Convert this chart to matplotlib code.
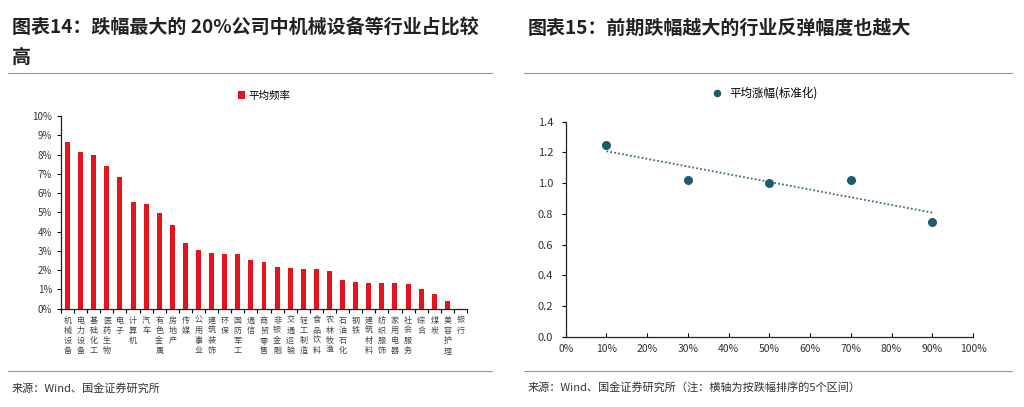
import matplotlib
matplotlib.use("Agg")
import matplotlib.pyplot as plt
from matplotlib.ticker import PercentFormatter, MultipleLocator
import numpy as np

plt.rcParams["font.family"] = ["Noto Sans CJK SC", "DejaVu Sans"]

# left chart: share of industries among the 20% biggest losers
industries = ["机械设备", "电力设备", "基础化工", "医药生物", "电子", "计算机", "汽车",
              "有色金属", "房地产", "传媒", "公用事业", "建筑装饰", "环保", "国防军工",
              "通信", "商贸零售", "非银金融", "交通运输", "轻工制造", "食品饮料",
              "农林牧渔", "石油石化", "钢铁", "建筑材料", "纺织服饰", "家用电器",
              "社会服务", "综合", "煤炭", "美容护理", "银行"]
freq = [8.67, 8.13, 7.96, 7.4, 6.85, 5.55, 5.43, 4.98, 4.33, 3.43, 3.03, 2.87, 2.84,
        2.83, 2.52, 2.41, 2.15, 2.09, 2.07, 2.06, 1.98, 1.49, 1.4, 1.35, 1.35, 1.35,
        1.27, 1.02, 0.78, 0.38, 0.0]

# right chart: rebound vs prior drop bucket
buckets = [0.1, 0.3, 0.5, 0.7, 0.9]
rebound = [1.25, 1.02, 1.0, 1.02, 0.75]

RED = "#E5141C"
TEAL = "#1F5B70"
GRAY_TXT = "#333333"

fig = plt.figure(figsize=(10.24, 4.07), dpi=100)

# titles
fig.text(12 / 1024, 1 - 28 / 407, "图表14：跌幅最大的 20%公司中机械设备等行业占比较",
         fontsize=13.7, fontweight="bold", fontstyle="italic", va="center", color="#222222")
fig.text(12 / 1024, 1 - 57 / 407, "高", fontsize=13.7, fontweight="bold",
         fontstyle="italic", va="center", color="#222222")
fig.text(528 / 1024, 1 - 28 / 407, "图表15：前期跌幅越大的行业反弹幅度也越大",
         fontsize=13.7, fontweight="bold", fontstyle="italic", va="center", color="#222222")

# separator lines
for x0, x1 in [(8, 492), (524, 1012)]:
    fig.add_artist(plt.Line2D([x0 / 1024, x1 / 1024], [1 - 73 / 407] * 2,
                              color="#999999", lw=0.8))
    fig.add_artist(plt.Line2D([x0 / 1024, x1 / 1024], [1 - 371 / 407] * 2,
                              color="#999999", lw=0.8))

# sources
fig.text(12 / 1024, 1 - 388 / 407, "来源：Wind、国金证券研究所", fontsize=8,
         va="center", color=GRAY_TXT)
fig.text(528 / 1024, 1 - 388 / 407,
         "来源：Wind、国金证券研究所（注：横轴为按跌幅排序的5个区间）",
         fontsize=8, va="center", color=GRAY_TXT)

# ---- left chart
ax1 = fig.add_axes([61 / 1024, 1 - 308.7 / 407, 406 / 1024, 192.7 / 407])
x = np.arange(len(industries))
ax1.bar(x, freq, width=0.38, color=RED, label="平均频率")
ax1.set_xlim(-0.5, len(industries) - 0.5)
ax1.set_ylim(0, 10)
ax1.yaxis.set_major_locator(MultipleLocator(1))
ax1.yaxis.set_major_formatter(PercentFormatter(decimals=0))
ax1.set_xticks(np.arange(len(industries) + 1) - 0.5)
ax1.set_xticklabels([])
ax1.set_xticks(x, minor=True)
ax1.set_xticklabels(["\n".join(s) for s in industries], minor=True,
                    fontsize=5.8, linespacing=1.15, va="top", color="#444444")
ax1.tick_params(axis="x", which="minor", length=0, pad=5)
ax1.tick_params(axis="x", which="major", length=3, direction="out", width=0.8)
ax1.tick_params(axis="y", length=3, direction="out", width=0.8, labelsize=7,
                labelcolor=GRAY_TXT)
for side in ["top", "right"]:
    ax1.spines[side].set_visible(False)
for side in ["left", "bottom"]:
    ax1.spines[side].set_color("#222222")
    ax1.spines[side].set_linewidth(0.9)
ax1.legend(loc="lower center", bbox_to_anchor=(0.5, 1.03), frameon=False, fontsize=7.6,
           handlelength=0.7, handleheight=0.7, handletextpad=0.3)

# ---- right chart
ax2 = fig.add_axes([565.7 / 1024, 1 - 336.7 / 407, 407.3 / 1024, 215 / 407])
ax2.scatter(buckets, rebound, s=30, color=TEAL, zorder=3, label="平均涨幅(标准化)")
coef = np.polyfit(buckets, rebound, 1)
ax2.plot([buckets[0], buckets[-1]], np.polyval(coef, [buckets[0], buckets[-1]]),
         linestyle=(0, (1, 1.2)), color="#3E6F80", lw=1.3, zorder=2)
ax2.set_xlim(0, 1)
ax2.set_ylim(0, 1.4)
ax2.xaxis.set_major_locator(MultipleLocator(0.1))
ax2.xaxis.set_major_formatter(PercentFormatter(xmax=1, decimals=0))
ax2.yaxis.set_major_locator(MultipleLocator(0.2))
ax2.yaxis.set_major_formatter(lambda v, p: f"{v:.1f}")
ax2.tick_params(axis="x", length=3, direction="in", width=0.8, labelsize=7.5,
                labelcolor=GRAY_TXT, pad=5)
ax2.tick_params(axis="y", length=3, direction="out", width=0.8, labelsize=8,
                labelcolor=GRAY_TXT, pad=6)
for side in ["top", "right"]:
    ax2.spines[side].set_visible(False)
for side in ["left", "bottom"]:
    ax2.spines[side].set_color("#222222")
    ax2.spines[side].set_linewidth(0.9)
ax2.legend(loc="lower center", bbox_to_anchor=(0.48, 1.055), frameon=False, fontsize=8.3,
           handletextpad=0.1, markerscale=0.8)

fig.savefig("out.png", dpi=100)
